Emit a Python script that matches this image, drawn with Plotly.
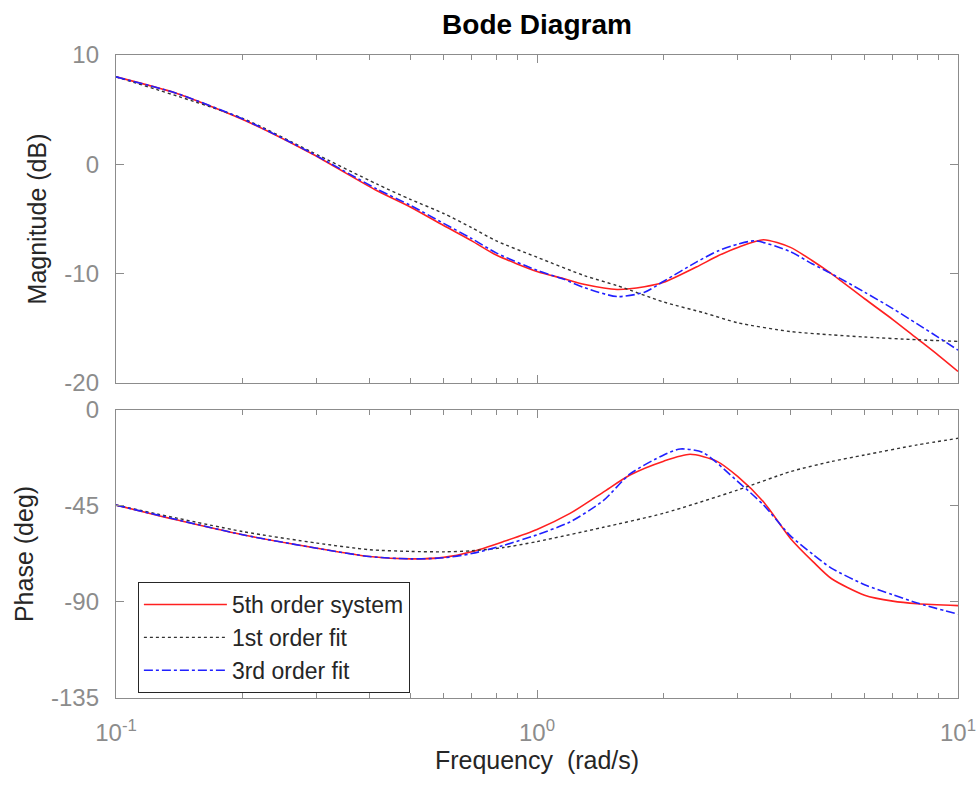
import plotly.graph_objects as go

# --- magnitude (dB) ---
mag_sys_w = [0.1, 0.139, 0.2, 0.289, 0.416, 0.5, 0.6, 0.7, 0.8, 1.0, 1.155, 1.3, 1.55,
             1.8, 2.0, 2.39, 2.7, 3.0, 3.45, 4.0, 4.5, 5.0, 6.0, 7.0, 8.0, 9.0, 10.0]
mag_sys = [8.0, 6.5, 4.1, 1.05, -2.4, -3.9, -5.6, -7.0, -8.3, -9.8, -10.45, -11.0, -11.45,
           -11.2, -10.8, -9.4, -8.35, -7.6, -6.9, -7.6, -8.8, -10.0, -12.3, -14.2, -15.95, -17.5, -18.95]

mag_fit1_w = [0.1, 0.2, 0.289, 0.416, 0.5, 0.6, 0.7, 0.8, 1.0, 1.3, 1.55, 2.0, 2.5,
              3.0, 4.0, 5.0, 6.0, 8.0, 10.0]
mag_fit1 = [8.0, 4.2, 1.2, -1.8, -3.2, -4.5, -5.8, -7.0, -8.5, -10.2, -11.1, -12.6, -13.6,
            -14.5, -15.3, -15.6, -15.8, -16.05, -16.2]

mag_fit3_w = [0.1, 0.139, 0.2, 0.289, 0.416, 0.5, 0.6, 0.7, 0.8, 1.0, 1.155, 1.3, 1.55,
              1.8, 2.0, 2.39, 2.7, 3.0, 3.3, 4.0, 4.5, 5.0, 6.0, 7.0, 8.0, 9.0, 10.0]
mag_fit3 = [8.0, 6.5, 4.15, 1.1, -2.25, -3.75, -5.4, -6.8, -8.1, -9.7, -10.5, -11.3, -12.1,
            -11.7, -10.7, -8.95, -7.9, -7.3, -7.0, -8.0, -9.1, -10.0, -11.7, -13.2, -14.6, -15.85, -17.0]

# --- phase (deg) ---
ph_sys_w = [0.1, 0.139, 0.2, 0.3, 0.4, 0.5, 0.6, 0.7, 0.832, 1.0, 1.198, 1.437, 1.663,
            2.0, 2.31, 2.67, 3.0, 3.45, 4.0, 4.53, 5.0, 6.0, 7.0, 8.0, 10.0]
ph_sys = [-44.6, -51.5, -58.5, -64.8, -68.7, -69.8, -69.1, -66.5, -61.7, -56.0, -48.5, -38.5, -30.5,
          -24.0, -20.8, -24.0, -31.3, -43.0, -60.2, -71.2, -79.0, -86.8, -89.6, -90.8, -91.7]

ph_fit1_w = [0.1, 0.2, 0.3, 0.4, 0.5, 0.6, 0.7, 0.832, 1.0, 1.437, 2.0, 3.0, 4.0,
             5.0, 6.0, 8.0, 10.0]
ph_fit1 = [-44.6, -57.0, -62.4, -65.5, -66.3, -66.5, -66.0, -64.5, -61.7, -55.0, -48.4, -37.5, -28.9,
           -24.2, -21.1, -16.4, -13.3]

ph_fit3_w = [0.1, 0.2, 0.3, 0.4, 0.5, 0.6, 0.7, 0.832, 1.0, 1.198, 1.437, 1.663, 2.0,
             2.19, 2.48, 3.0, 3.45, 4.0, 4.53, 5.0, 6.0, 7.0, 8.0, 10.0]
ph_fit3 = [-44.6, -58.5, -64.8, -68.7, -69.8, -69.3, -67.3, -63.5, -58.5, -52.5, -42.5, -30.0, -21.1,
           -18.3, -20.0, -33.6, -44.5, -59.0, -67.8, -74.1, -81.9, -86.6, -90.5, -95.7]

series_names = ["5th order system", "1st order fit", "3rd order fit"]

mag_ticks = [-20, -10, 0, 10]
ph_ticks = [-135, -90, -45, 0]
freq_ticks = [0.1, 1, 10]
freq_ticktext = ["10<sup>-1</sup>", "10<sup>0</sup>", "10<sup>1</sup>"]
minor_vals = [0.2, 0.3, 0.4, 0.5, 0.6, 0.7, 0.8, 0.9, 2, 3, 4, 5, 6, 7, 8, 9]

FONT = "Liberation Sans, Arial, Helvetica, sans-serif"
AXIS_GRAY = "#8c8c8c"
TICK_GRAY = "#8c8c8c"
LABEL_DARK = "#262626"

styles = [
    dict(color="#ff2020", width=1.6, dash="solid"),
    dict(color="#333333", width=1.4, dash="dot"),
    dict(color="#2020ff", width=1.6, dash="dashdot"),
]

fig = go.Figure()

mag_data = [(mag_sys_w, mag_sys), (mag_fit1_w, mag_fit1), (mag_fit3_w, mag_fit3)]
ph_data = [(ph_sys_w, ph_sys), (ph_fit1_w, ph_fit1), (ph_fit3_w, ph_fit3)]

for name, st, (w, m) in zip(series_names, styles, mag_data):
    fig.add_trace(go.Scatter(x=w, y=m, mode="lines", line=dict(**st, shape="spline", smoothing=0.7),
                             name=name, showlegend=False, xaxis="x", yaxis="y"))

for name, st, (w, p) in zip(series_names, styles, ph_data):
    fig.add_trace(go.Scatter(x=w, y=p, mode="lines", line=dict(**st, shape="spline", smoothing=0.7),
                             name=name, showlegend=True, xaxis="x2", yaxis="y2"))

common_x = dict(
    type="log", range=[-1, 1], showgrid=False, zeroline=False, automargin=False,
    showline=True, linecolor=AXIS_GRAY, linewidth=1.3, mirror="allticks",
    ticks="inside", ticklen=8, tickcolor=AXIS_GRAY, tickwidth=1,
    tickvals=freq_ticks,
    minor=dict(tickvals=minor_vals, ticks="inside", ticklen=5, tickcolor=AXIS_GRAY, tickwidth=1),
)
common_y = dict(
    showgrid=False, zeroline=False, showline=True, linecolor=AXIS_GRAY, linewidth=1.3,
    automargin=False, mirror="allticks", ticks="inside", ticklen=8, tickcolor=AXIS_GRAY,
    tickwidth=1, tickfont=dict(family=FONT, size=24, color=TICK_GRAY), ticklabelstandoff=11,
)

fig.update_layout(
    width=979, height=789,
    paper_bgcolor="white", plot_bgcolor="white",
    margin=dict(l=116, r=21, t=55, b=91),
    font=dict(family=FONT, color=LABEL_DARK),
    title=dict(text="Bode Diagram", x=0.5, xref="paper", xanchor="center",
               y=1 - 24 / 789, yref="container", yanchor="middle",
               font=dict(family=FONT, size=28, color="#000000", weight="bold")),
    xaxis=dict(**common_x, anchor="y", domain=[0, 1], showticklabels=False),
    xaxis2=dict(**common_x, anchor="y2", domain=[0, 1], matches="x",
                ticktext=freq_ticktext, ticklabelstandoff=13,
                tickfont=dict(family=FONT, size=24, color=TICK_GRAY),
                title=dict(text="Frequency  (rad/s)", standoff=6,
                           font=dict(family=FONT, size=25, color=LABEL_DARK))),
    yaxis=dict(**common_y, anchor="x", domain=[0.49, 1.0], range=[-20, 10],
               tickvals=mag_ticks, ticktext=[str(v) for v in mag_ticks],
               title=dict(text="Magnitude (dB)", standoff=10,
                          font=dict(family=FONT, size=25, color=LABEL_DARK))),
    yaxis2=dict(**common_y, anchor="x2", domain=[0, 0.448], range=[-135, 0],
                tickvals=ph_ticks, ticktext=[str(v) for v in ph_ticks],
                title=dict(text="Phase (deg)", standoff=10,
                           font=dict(family=FONT, size=25, color=LABEL_DARK))),
    legend=dict(x=0.026, y=0.1804, xanchor="left", yanchor="top",
                bgcolor="white", bordercolor=LABEL_DARK, borderwidth=1,
                font=dict(family=FONT, size=23, color=LABEL_DARK),
                itemwidth=83, tracegroupgap=0),
    showlegend=True,
)

# the page body has a default 8px margin; drop it so the figure sits at the corner
fig.write_html("out.html", config={"displayModeBar": False},
               post_script="document.body.style.margin='0px';")
